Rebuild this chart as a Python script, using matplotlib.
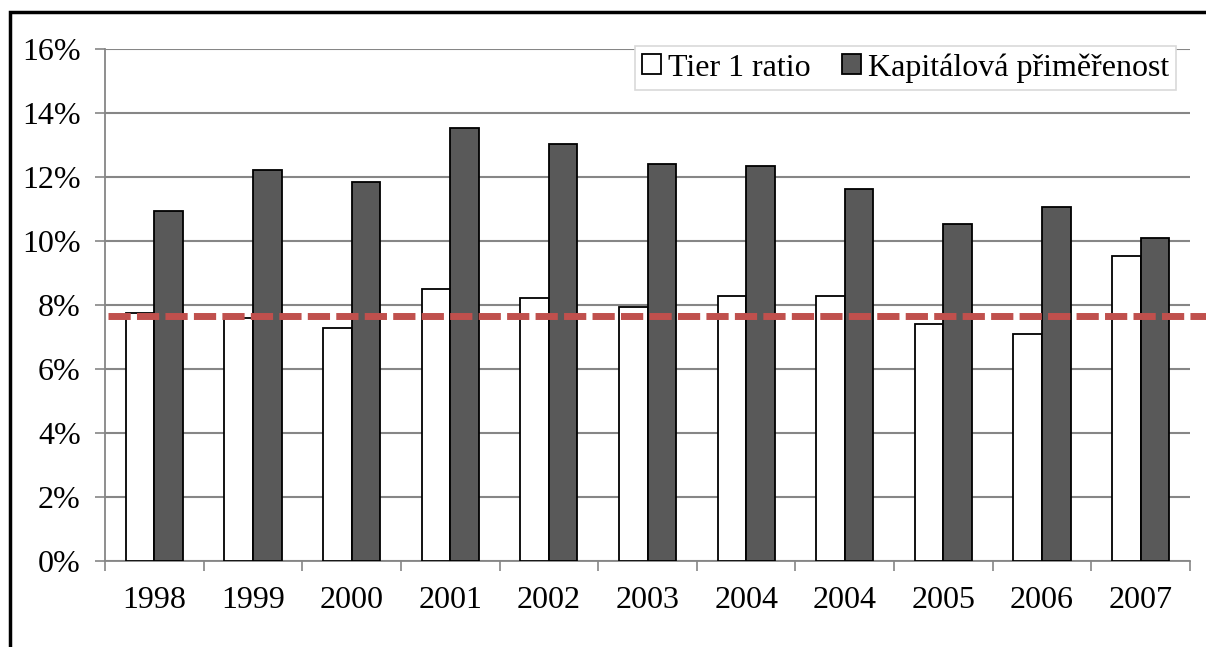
import numpy as np
import matplotlib.pyplot as plt
from matplotlib.patches import Rectangle

# --- data ---
years = ['1998', '1999', '2000', '2001', '2002', '2003', '2004', '2004', '2005', '2006', '2007']
tier1 = [7.74, 7.61, 7.28, 8.50, 8.22, 7.94, 8.29, 8.29, 7.41, 7.09, 9.53]
kap = [10.94, 12.22, 11.84, 13.53, 13.02, 12.41, 12.34, 11.63, 10.53, 11.08, 10.09]
limit = 7.67
yticks = [0, 2, 4, 6, 8, 10, 12, 14, 16]

plt.rcParams['font.family'] = ['Liberation Serif', 'DejaVu Serif']
fs = 23

fig = plt.figure(figsize=(12.06, 6.47), dpi=100)
ax = fig.add_axes([105/1206, 1 - 561.3/647, 1085/1206, (561.3-49)/647])

# outer frame (cropped at right and bottom in the original)
fig.add_artist(Rectangle((10/1206, -0.1), 1.2, 1 - 12/647 + 0.1, transform=fig.transFigure,
                         fill=False, edgecolor='black', linewidth=2.5))

x = np.arange(len(years))
w = 0.29
ax.bar(x - w/2, tier1, w, color='white', edgecolor='black', linewidth=1.3,
       label='Tier 1 ratio', zorder=3)
ax.bar(x + w/2, kap, w, color='#595959', edgecolor='black', linewidth=1.3,
       label='Kapitálová přiměřenost', zorder=3)

# regulatory minimum line, runs past the plot area on the right
ax.plot([0.003, 1.02], [limit, limit], transform=ax.get_yaxis_transform(),
        color='#C0504D', linewidth=5, dashes=(3.2, 0.9), clip_on=False, zorder=4)

ax.set_xlim(-0.5, len(years) - 0.5)
ax.set_ylim(0, 16)
ax.set_yticks(yticks)
ax.set_yticklabels([f'{t}%' for t in yticks], fontsize=fs)
ax.yaxis.grid(True, color='#868686', linewidth=1.5, zorder=0)
ax.set_axisbelow(True)

ax.set_xticks(x)
ax.set_xticklabels(years, fontsize=fs)
ax.set_xticks(np.arange(len(years) + 1) - 0.5, minor=True)
ax.tick_params(axis='x', which='major', length=0, pad=18)
ax.tick_params(axis='x', which='minor', length=7.5, width=1.2, color='#868686')
ax.tick_params(axis='y', length=7.5, width=1.2, color='#868686', pad=10)

for s in ['top', 'right']:
    ax.spines[s].set_visible(False)
for s in ['left', 'bottom']:
    ax.spines[s].set_color('#868686')
    ax.spines[s].set_linewidth(1.3)

leg = ax.legend(loc='upper right', bbox_to_anchor=(1176/1206, 1 - 46/647),
                bbox_transform=fig.transFigure, ncol=2, fontsize=fs,
                frameon=True, fancybox=False, framealpha=1, edgecolor='#D9D9D9',
                handlelength=0.6, handleheight=0.6, handletextpad=0.2,
                columnspacing=1.0, borderpad=0.22, borderaxespad=0)
leg.get_frame().set_linewidth(1.2)
leg.set_zorder(5)

fig.savefig('out.png', dpi=100)
